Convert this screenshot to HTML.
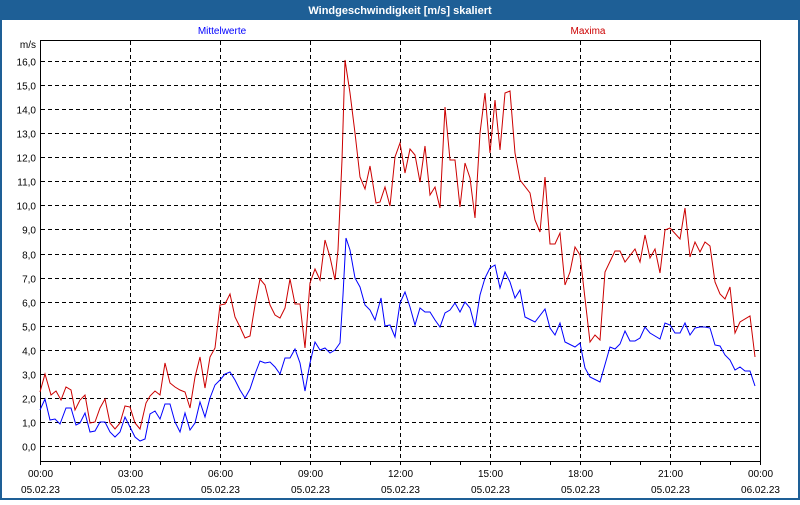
<!DOCTYPE html>
<html><head><meta charset="utf-8"><style>
body{margin:0;width:800px;height:500px;overflow:hidden;background:#fff}
</style></head><body>
<svg width="800" height="500" xmlns="http://www.w3.org/2000/svg" font-family="Liberation Sans, sans-serif">
<rect x="0" y="0" width="800" height="500" fill="#fff"/>
<rect x="0" y="0" width="800" height="20" fill="#1e5f96"/>
<rect x="1" y="1" width="798" height="498" fill="none" stroke="#1e5f96" stroke-width="2"/>
<text x="400" y="14" fill="#fff" font-size="11" font-weight="bold" text-anchor="middle">Windgeschwindigkeit [m/s] skaliert</text>
<text x="222" y="34" fill="#0000ff" font-size="10" text-anchor="middle">Mittelwerte</text>
<text x="588" y="34" fill="#cc0000" font-size="10" text-anchor="middle">Maxima</text>
<text x="36" y="48" fill="#000" font-size="10" text-anchor="end">m/s</text>
<g stroke="#000" stroke-width="1" stroke-dasharray="4,3" shape-rendering="crispEdges" id="grid"></g>
<g id="lbl" font-size="10" fill="#000"></g>
<rect x="40.5" y="40.5" width="720" height="421" fill="none" stroke="#000" shape-rendering="crispEdges"/>
<polyline fill="none" stroke="#cc0000" stroke-width="1" points="40,392 45,374 51,395 56,391 61,400 66,387 71,390 75,410 80,400 85,395 90,423 95,422 100,408 105,399 110,423 115,429 120,423 125,406 130,407 135,423 140,429 146,403 150,396 155,391 160,395 165,363 170,383 175,387 180,390 185,392 190,408 195,377 200,357 205,388 210,357 215,348 220,305 225,304 230,294 235,317 240,327 245,338 250,336 255,305 260,279 265,285 270,305 275,315 280,318 285,308 290,279 295,304 300,304 305,348 310,283 315,269 320,280 325,240 330,257 335,280 338,250 342,160 345,60 350,93 355,133 360,177 365,189 370,166 376,203 380,202 385,187 390,206 395,157 400,143 405,173 410,149 415,155 420,182 425,146 430,195 435,187 440,208 445,107 450,160 455,160 460,207 465,163 470,178 475,218 480,133 485,93 490,153 495,100 500,150 505,93 510,91 515,153 520,180 530,193 535,220 540,232 545,177 550,244 555,244 560,233 565,285 570,272 575,247 580,255 590,342 595,335 600,340 605,272 615,251 620,251 625,262 635,249 640,262 645,235 650,258 655,249 660,273 665,230 670,228 680,239 685,208 690,257 695,242 700,252 705,242 710,246 715,282 720,294 725,299 730,287 735,333 740,322 750,316 755,357"/>
<polyline fill="none" stroke="#0000ff" stroke-width="1" points="40,410 45,399 50,420 55,419 60,424 66,408 71,408 76,425 80,423 85,413 90,432 95,431 100,422 105,422 110,432 115,437 120,432 125,417 130,427 135,437 140,441 145,439 150,414 155,411 160,419 165,404 170,404 175,422 180,432 185,413 190,430 195,423 200,402 205,417 210,398 215,385 220,380 225,374 230,372 235,380 240,390 245,398 250,389 255,374 260,361 265,363 270,362 275,367 280,374 285,358 290,358 295,349 300,363 305,391 310,363 315,342 320,350 325,348 330,353 335,350 340,343 343,295 346,238 350,250 355,278 360,287 365,305 370,310 375,320 381,298 385,326 390,325 395,337 400,303 405,292 410,307 415,325 420,308 425,312 430,312 435,320 440,327 445,313 450,310 455,303 460,312 465,302 470,308 475,327 480,295 485,278 490,268 495,265 500,288 505,272 510,282 515,298 520,290 525,317 535,322 545,309 550,328 555,335 560,323 565,342 575,347 580,343 585,368 590,377 600,382 610,347 615,349 620,344 625,331 630,341 635,341 640,338 645,327 650,333 660,339 665,323 670,325 675,333 680,333 685,323 690,335 695,328 700,327 705,327 710,328 715,345 720,346 725,355 730,360 735,370 740,367 745,371 750,371 755,386"/>
<script>
var ns="http://www.w3.org/2000/svg",g=document.getElementById("grid"),l=document.getElementById("lbl");
function el(p,t,a,txt){var e=document.createElementNS(ns,t);for(var k in a)e.setAttribute(k,a[k]);if(txt)e.textContent=txt;p.appendChild(e);return e;}
for(var v=0;v<=16;v++){var y=Math.round(446-v*24.06)+0.5;el(g,"line",{x1:41,x2:760,y1:y,y2:y});el(l,"text",{x:36,y:y+4,"text-anchor":"end"},v+",0");}
var t=["00:00","03:00","06:00","09:00","12:00","15:00","18:00","21:00","00:00"];
for(var i=0;i<=8;i++){var x=40+90*i+0.5;if(i>0&&i<8)el(g,"line",{x1:x,x2:x,y1:41,y2:461});
el(l,"text",{x:x,y:477,"text-anchor":"middle"},t[i]);el(l,"text",{x:x,y:493,"text-anchor":"middle"},i==8?"06.02.23":"05.02.23");}
for(var j=0;j<=24;j++){var xx=40+30*j+0.5;el(l,"line",{x1:xx,x2:xx,y1:461,y2:465,stroke:"#000","shape-rendering":"crispEdges"});}
</script>
</svg>
</body></html>
